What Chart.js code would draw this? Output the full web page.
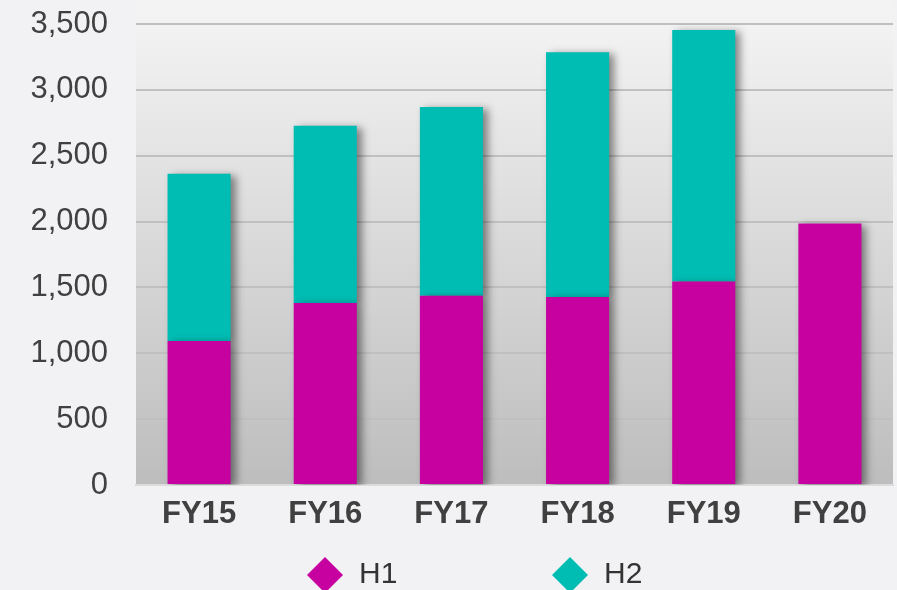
<!DOCTYPE html>
<html>
<head>
<meta charset="utf-8">
<script src="https://cdn.jsdelivr.net/npm/chart.js@4.4.1/dist/chart.umd.min.js"></script>
<style>
  html, body { margin: 0; padding: 0; background: #f2f2f4; }
  #wrap { width: 897px; height: 590px; }
</style>
</head>
<body>
<div id="wrap"><canvas id="chart-canvas" width="897" height="590"></canvas></div>
<script>
const years = ['FY15', 'FY16', 'FY17', 'FY18', 'FY19', 'FY20'];
const h1 = [1093, 1381, 1437, 1427, 1545, 1985];
const h2 = [1271, 1346, 1432, 1859, 1910, null];
const yTicks = [0, 500, 1000, 1500, 2000, 2500, 3000, 3500];

const magenta = '#c700a0';
const teal = '#00bdb4';
const fontFamily = '"Liberation Sans", Arial, sans-serif';

// plot area gradient, drawn behind everything
const plotBg = {
  id: 'plotBg',
  beforeDraw(chart) {
    const {ctx, chartArea} = chart;
    const g = ctx.createLinearGradient(0, 0, 0, chartArea.bottom);
    g.addColorStop(0, '#f3f3f3');
    g.addColorStop(0.08, '#f1f1f1');
    g.addColorStop(1, '#bdbdbd');
    ctx.save();
    ctx.fillStyle = g;
    ctx.fillRect(chartArea.left, 0, chartArea.right - chartArea.left, chartArea.bottom);
    ctx.restore();
  }
};

// soft drop shadow on the bars
const barShadow = {
  id: 'barShadow',
  beforeDatasetsDraw(chart) {
    const ctx = chart.ctx;
    ctx.save();
    ctx.shadowColor = 'rgba(0,0,0,0.45)';
    ctx.shadowBlur = 8;
    ctx.shadowOffsetX = 5;
    ctx.shadowOffsetY = 2;
  },
  afterDatasetsDraw(chart) {
    chart.ctx.restore();
  }
};

// legend with diamond markers at the bottom
const diamondLegend = {
  id: 'diamondLegend',
  afterDraw(chart, args, opts) {
    const ctx = chart.ctx;
    ctx.save();
    chart.data.datasets.forEach((ds, i) => {
      const cx = opts.centers[i];
      const cy = opts.y;
      const r = opts.size;
      ctx.fillStyle = ds.backgroundColor;
      ctx.beginPath();
      ctx.moveTo(cx, cy - r);
      ctx.lineTo(cx + r, cy);
      ctx.lineTo(cx, cy + r);
      ctx.lineTo(cx - r, cy);
      ctx.closePath();
      ctx.fill();
      ctx.fillStyle = '#333333';
      ctx.font = '30px ' + fontFamily;
      ctx.textBaseline = 'middle';
      ctx.textAlign = 'left';
      ctx.fillText(ds.label, cx + 34, cy);
    });
    ctx.restore();
  }
};

const chart = new Chart(document.querySelector('#chart-canvas'), {
  type: 'bar',
  data: {
    labels: years,
    datasets: [{
      label: 'H1',
      data: h1,
      backgroundColor: magenta,
      barPercentage: 0.5,
      categoryPercentage: 1
    }, {
      label: 'H2',
      data: h2,
      backgroundColor: teal,
      barPercentage: 0.5,
      categoryPercentage: 1
    }]
  },
  plugins: [plotBg, barShadow, diamondLegend],
  options: {
    responsive: false,
    animation: false,
    layout: { padding: { top: 0, right: 4, bottom: 60, left: 0 } },
    plugins: {
      legend: { display: false },
      tooltip: { enabled: false },
      diamondLegend: { centers: [325, 570], y: 575, size: 18 }
    },
    scales: {
      x: {
        stacked: true,
        grid: { display: false },
        border: { display: true, color: '#dcdcdc', width: 2 },
        afterFit(scale) {
          scale.height = 45;
        },
        ticks: {
          color: '#404040',
          padding: 3,
          font: { family: fontFamily, size: 31, weight: 'bold' }
        }
      },
      y: {
        stacked: true,
        min: 0,
        max: 3500,
        afterBuildTicks(scale) {
          scale.ticks = yTicks.map(v => ({ value: v }));
        },
        afterFit(scale) {
          scale.width = 136;
          scale.paddingTop = 24;
        },
        grid: { color: '#c0c0c0', lineWidth: 2, drawTicks: false },
        border: { display: false },
        ticks: {
          color: '#404040',
          padding: 28,
          font: { family: fontFamily, size: 31 },
          callback: v => v.toLocaleString('en-US')
        }
      }
    }
  }
});
</script>
</body>
</html>
